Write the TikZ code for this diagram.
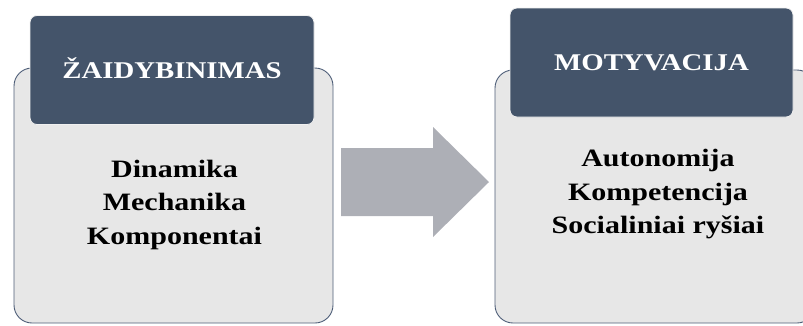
\documentclass[tikz,border=0pt]{standalone}
\usepackage{fontspec}
\setmainfont{Liberation Serif}[FakeStretch=1.2]
\definecolor{headblue}{HTML}{44546A}
\definecolor{bodygray}{HTML}{E7E7E7}
\definecolor{edgeblue}{HTML}{4E5E78}
\definecolor{arrowgray}{HTML}{ADAFB6}
\begin{document}
\begin{tikzpicture}[x=1pt,y=-1pt,
  bodybox/.style={rectangle, rounded corners=18pt, fill=bodygray, draw=edgeblue, line width=0.9pt, inner sep=0pt},
  headbox/.style={rectangle, rounded corners=7pt, fill=headblue, draw=white!88!gray, line width=0.8pt, inner sep=0pt,
    text=white, font=\bfseries\fontsize{24}{28}\selectfont, text height=16pt, text depth=0pt},
  bodytext/.style={align=center, inner sep=0pt, font=\bfseries\fontsize{25}{33.5}\selectfont}
]
\useasboundingbox (0,0) rectangle (803,325);
\clip (0,0) rectangle (803,325);
% left group
\node[bodybox, minimum width=319pt, minimum height=255pt] (lbody) at (173.5,195.5) {};
\node[headbox, minimum width=284pt, minimum height=109pt] (lhead) at (172,70) {ŽAIDYBINIMAS};
\node[bodytext] (ltext) at (174.5,204.5) {Dinamika\\Mechanika\\Komponentai};
% right group
\node[bodybox, minimum width=320pt, minimum height=253pt] (rbody) at (655,196.5) {};
\node[headbox, minimum width=283pt, minimum height=109pt] (rhead) at (651.5,62.5) {MOTYVACIJA};
\node[bodytext] (rtext) at (658,194.5) {Autonomija\\Kompetencija\\Socialiniai ryšiai};
% block arrow
\coordinate (arw) at (341,182);
\fill[arrowgray] (arw) ++(0,-34) -- ++(92,0) -- ++(0,-21) -- ++(56,55) -- ++(-56,55) -- ++(0,-21) -- ++(-92,0) -- cycle;
\end{tikzpicture}
\end{document}
